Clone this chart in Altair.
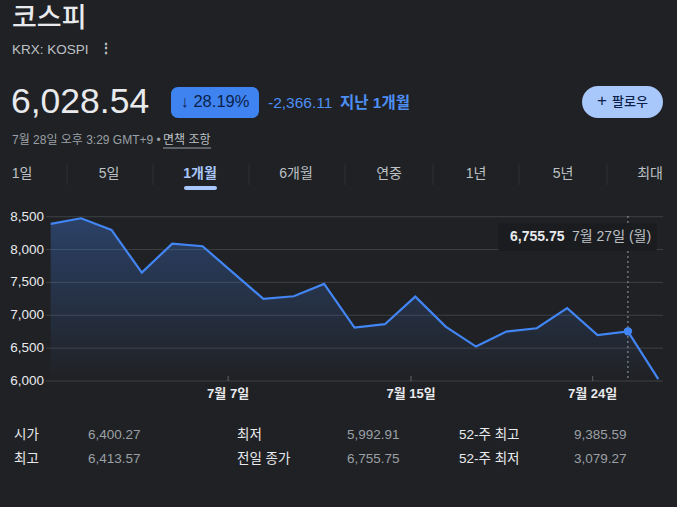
import altair as alt
import pandas as pd

# ---------------- data ----------------
dates = ["6월 29일", "6월 30일", "7월 1일", "7월 2일", "7월 3일", "7월 6일", "7월 7일",
         "7월 8일", "7월 9일", "7월 10일", "7월 13일", "7월 14일", "7월 15일", "7월 16일",
         "7월 20일", "7월 21일", "7월 22일", "7월 23일", "7월 24일", "7월 27일", "7월 28일"]
values = [8390, 8476, 8298, 7649, 8090, 8050, 7650, 7249, 7290, 7477, 6813, 6864,
          7284, 6828, 6524, 6752, 6803, 7108, 6697, 6755.75, 6028.54]
y_ticks = [6000, 6500, 7000, 7500, 8000, 8500]
y_tick_labels = ["6,000", "6,500", "7,000", "7,500", "8,000", "8,500"]
x_tick_pos = [5.84, 11.86, 17.84]
x_tick_labels = ["7월 7일", "7월 15일", "7월 24일"]
hover_index = 19
hover_value_text = "6,755.75"
hover_date_text = "7월 27일 (월)"

tabs = ["1일", "5일", "1개월", "6개월", "연중", "1년", "5년", "최대"]
active_tab = "1개월"
stat_labels_1 = ["시가", "최고"]
stat_values_1 = ["6,400.27", "6,413.57"]
stat_labels_2 = ["최저", "전일 종가"]
stat_values_2 = ["5,992.91", "6,755.75"]
stat_labels_3 = ["52-주 최고", "52-주 최저"]
stat_values_3 = ["9,385.59", "3,079.27"]

title = "코스피"
ticker = "KRX: KOSPI"
price = "6,028.54"
pct_change = "↓ 28.19%"
abs_change = "-2,366.11"
period = "지난 1개월"
timestamp = "7월 28일 오후 3:29 GMT+9 • "
disclaimer = "면책 조항"
follow_plus = "+"
follow = "팔로우"

# ---------------- style ----------------
BG = "#202124"
FONT = "Liberation Sans, Noto Sans CJK KR"
BLUE = "#4285f4"
GRID = "#3c4043"

df = pd.DataFrame({"i": list(range(len(values))), "v": values, "d": dates})
gdf = pd.DataFrame({"v": y_ticks, "lab": y_tick_labels})
xdf = pd.DataFrame({"p": x_tick_pos, "lab": x_tick_labels})
hdf = df[df["i"] == hover_index]

xs = alt.Scale(domain=[0, 20], range=[50.7, 658.3])
ys = alt.Scale(domain=[6000, 8500], range=[381, 216.7], zero=False)
X = lambda f: alt.X(f, type="quantitative", scale=xs, axis=None)
Y = lambda f: alt.Y(f, type="quantitative", scale=ys, axis=None)

one = pd.DataFrame({"k": [0]})


def txt(t, x, y, size=13, color="#e8eaed", weight="normal", align="left", baseline="middle"):
    return alt.Chart(one).mark_text(
        text=t, x=x, y=y, fontSize=size, color=color, fontWeight=weight,
        align=align, baseline=baseline, font=FONT)


def box(x1, x2, y1, y2, color, radius=0, opacity=1.0):
    return alt.Chart(one).mark_rect(color=color, cornerRadius=radius, opacity=opacity).encode(
        x=alt.value(x1), x2=alt.value(x2), y=alt.value(y1), y2=alt.value(y2))


def rule(x1, x2, y1, y2, color, width=1, dash=None):
    kw = dict(color=color, strokeWidth=width)
    if dash:
        kw["strokeDash"] = dash
    return alt.Chart(one).mark_rule(**kw).encode(
        x=alt.value(x1), x2=alt.value(x2), y=alt.value(y1), y2=alt.value(y2))


layers = []

# header
layers.append(txt(title, 12, 19, size=27, color="#e8eaed", weight=500))
layers.append(txt(ticker, 12, 50, size=13.5, color="#bdc1c6"))
layers.append(txt("⋮", 106, 49, size=14, color="#bdc1c6", weight="bold", align="center"))
layers.append(txt(price, 11, 102, size=35.5, color="#e8eaed"))
layers.append(box(171, 259, 87, 118, "#3f83f0", radius=7))
layers.append(txt(pct_change, 215, 102, size=16.5, color="#0b1f4a", align="center"))
layers.append(txt(abs_change, 268, 103, size=15.5, color="#4d8ff5"))
layers.append(txt(period, 340, 103, size=15.5, color="#4d8ff5", weight="bold"))
layers.append(box(582, 663, 86, 118, "#a8c7fa", radius=16))
layers.append(txt(follow_plus, 602, 101, size=17, color="#0b1f4a", align="center"))
layers.append(txt(follow, 630, 102, size=13, color="#0b1f4a", align="center", weight=500))
layers.append(txt(timestamp, 12, 140, size=12, color="#9aa0a6"))
layers.append(txt(disclaimer, 163, 140, size=12, color="#bdc1c6"))
layers.append(rule(163, 211, 148, 148, "#9aa0a6"))

# tabs
tab_x = [22, 109, 200, 296, 389, 476, 563, 650]
sep_x = [67, 153, 249, 345, 433, 519, 607]
for t, x in zip(tabs, tab_x):
    if t == active_tab:
        layers.append(txt(t, x, 174, size=14, color="#a8c7fa", weight="bold", align="center"))
    else:
        layers.append(txt(t, x, 174, size=14, color="#bdc1c6", align="center"))
for x in sep_x:
    layers.append(rule(x, x, 164, 185, "#2f3134"))
layers.append(box(184, 217, 186, 190, "#a8c7fa", radius=2))

# chart: grid and y labels
layers.append(alt.Chart(gdf).mark_rule(color=GRID, strokeWidth=1).encode(
    y=Y("v"), x=alt.value(46), x2=alt.value(663)))
layers.append(alt.Chart(gdf).mark_text(align="right", baseline="middle", fontSize=13.5,
                                       color="#e8eaed", font=FONT).encode(
    y=Y("v"), x=alt.value(44), text="lab:N"))

# area + line
layers.append(alt.Chart(df).mark_area(
    line=False,
    color=alt.Gradient(gradient="linear",
                       stops=[alt.GradientStop(color="rgba(66,133,244,0.32)", offset=0),
                              alt.GradientStop(color="rgba(66,133,244,0.0)", offset=1)],
                       x1=1, x2=1, y1=0, y2=1)).encode(
    x=X("i"), y=Y("v"), y2=alt.datum(6000)))
layers.append(alt.Chart(df).mark_line(color=BLUE, strokeWidth=2.2).encode(x=X("i"), y=Y("v")))

# x ticks and labels
layers.append(alt.Chart(xdf).mark_rule(color="#5f6368", strokeWidth=1).encode(
    x=X("p"), y=alt.value(376), y2=alt.value(381)))
layers.append(alt.Chart(xdf).mark_text(align="center", baseline="middle", fontSize=13,
                                       fontWeight="bold", color="#e8eaed", font=FONT).encode(
    x=X("p"), y=alt.value(394), text="lab:N"))

# hover marker
layers.append(alt.Chart(hdf).mark_rule(color="#9aa0a6", strokeDash=[2, 3], strokeWidth=1).encode(
    x=X("i"), y=alt.value(216), y2=alt.value(381)))
layers.append(alt.Chart(hdf).mark_point(filled=True, color=BLUE, size=70, opacity=1).encode(
    x=X("i"), y=Y("v")))

# tooltip
layers.append(box(498, 657, 223, 251, "#1b1c1f", radius=3))
layers.append(txt(hover_value_text, 510, 237, size=14, color="#e8eaed", weight="bold"))
layers.append(txt(hover_date_text, 572, 237, size=14, color="#bdc1c6"))

# stats
rows_y = [435, 459]
for labs, vals, lx, vx in [(stat_labels_1, stat_values_1, 14, 88),
                           (stat_labels_2, stat_values_2, 237, 347),
                           (stat_labels_3, stat_values_3, 459, 574)]:
    for lab, val, yy in zip(labs, vals, rows_y):
        layers.append(txt(lab, lx, yy, size=13.5, color="#e8eaed"))
        layers.append(txt(val, vx, yy, size=13.5, color="#9aa0a6"))

chart = alt.layer(*layers).properties(
    width=677, height=507, background=BG, padding=0,
    autosize=alt.AutoSizeParams(type="none")
).configure_view(stroke=None)

chart.save("out.html", embed_options={"renderer": "svg", "actions": False})
